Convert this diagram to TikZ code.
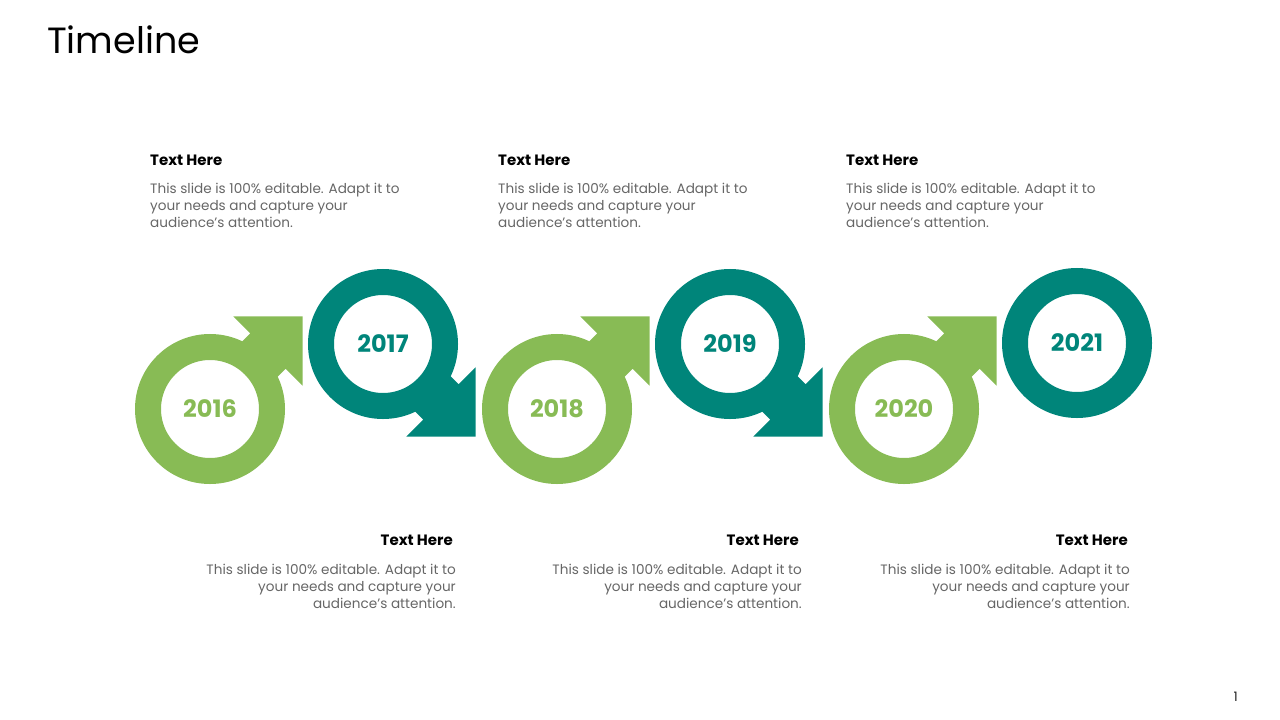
\documentclass[tikz,border=0pt]{standalone}
\usepackage{fontspec}
\setmainfont{Poppins}
\usetikzlibrary{positioning}
\definecolor{tlgreen}{HTML}{88BB55}
\definecolor{tlteal}{HTML}{00857A}
\definecolor{tlgray}{HTML}{666666}
\definecolor{tldark}{HTML}{222222}

\begin{document}
\begin{tikzpicture}[x=1pt, y=-1pt,
    ring/.style={circle, line width=26pt, minimum size=124pt, inner sep=0pt,
      font=\fontsize{24}{24}\selectfont\bfseries},
    head/.style={inner sep=0pt, text=black, font=\fontsize{15}{15}\selectfont\bfseries},
    body/.style={inner sep=0pt, text=tlgray, font=\fontsize{13.6}{16.6}\selectfont}]
    \useasboundingbox (0,0) rectangle (1280,720);

    \node[anchor=base west, inner sep=0pt, font=\fontsize{36.5}{36.5}\selectfont] (title) at (47,53) {Timeline};
    \node[anchor=base east, inner sep=0pt, text=tldark, font=\fontsize{13}{13}\selectfont] (page) at (1238,701) {1};

    % rings
    \node[ring, draw=tlgreen, text=tlgreen] (y2016) at (210,409) {2016};
    \node[ring, draw=tlteal, text=tlteal] (y2017) at (383,344) {2017};
    \node[ring, draw=tlgreen, text=tlgreen] (y2018) at (557,409) {2018};
    \node[ring, draw=tlteal, text=tlteal] (y2019) at (730,344) {2019};
    \node[ring, draw=tlgreen, text=tlgreen] (y2020) at (904,409) {2020};
    \node[ring, draw=tlteal, text=tlteal] (y2021) at (1077,343) {2021};

    % arrows out of the rings
    \fill[tlgreen, shift={(y2016.center)}, rotate=45] (58,-25) -- (82,-25) -- (82,-49) -- (131,0) -- (82,49) -- (82,25) -- (58,25) -- cycle;
    \fill[tlteal, shift={(y2017.center)}, rotate=-45] (58,-25) -- (82,-25) -- (82,-49) -- (131,0) -- (82,49) -- (82,25) -- (58,25) -- cycle;
    \fill[tlgreen, shift={(y2018.center)}, rotate=45] (58,-25) -- (82,-25) -- (82,-49) -- (131,0) -- (82,49) -- (82,25) -- (58,25) -- cycle;
    \fill[tlteal, shift={(y2019.center)}, rotate=-45] (58,-25) -- (82,-25) -- (82,-49) -- (131,0) -- (82,49) -- (82,25) -- (58,25) -- cycle;
    \fill[tlgreen, shift={(y2020.center)}, rotate=45] (58,-25) -- (82,-25) -- (82,-49) -- (131,0) -- (82,49) -- (82,25) -- (58,25) -- cycle;

    % texts above
    \node[head, anchor=base west] (h2016) at (150,165) {Text Here};
    \node[body, align=left, below=18pt of h2016.south west, anchor=north west] (t2016)
      {This slide is 100\% editable. Adapt it to\\your needs and capture your\\audience's attention.};
    \node[head, anchor=base west] (h2018) at (498,165) {Text Here};
    \node[body, align=left, below=18pt of h2018.south west, anchor=north west] (t2018)
      {This slide is 100\% editable. Adapt it to\\your needs and capture your\\audience's attention.};
    \node[head, anchor=base west] (h2020) at (846,165) {Text Here};
    \node[body, align=left, below=18pt of h2020.south west, anchor=north west] (t2020)
      {This slide is 100\% editable. Adapt it to\\your needs and capture your\\audience's attention.};

    % texts below
    \node[head, anchor=base east] (h2017) at (453,545) {Text Here};
    \node[body, align=right, below right=19pt and 3pt of h2017.south east, anchor=north east] (t2017)
      {This slide is 100\% editable. Adapt it to\\your needs and capture your\\audience's attention.};
    \node[head, anchor=base east] (h2019) at (799,545) {Text Here};
    \node[body, align=right, below right=19pt and 3pt of h2019.south east, anchor=north east] (t2019)
      {This slide is 100\% editable. Adapt it to\\your needs and capture your\\audience's attention.};
    \node[head, anchor=base east] (h2021) at (1128,545) {Text Here};
    \node[body, align=right, below right=19pt and 2pt of h2021.south east, anchor=north east] (t2021)
      {This slide is 100\% editable. Adapt it to\\your needs and capture your\\audience's attention.};
\end{tikzpicture}
\end{document}
